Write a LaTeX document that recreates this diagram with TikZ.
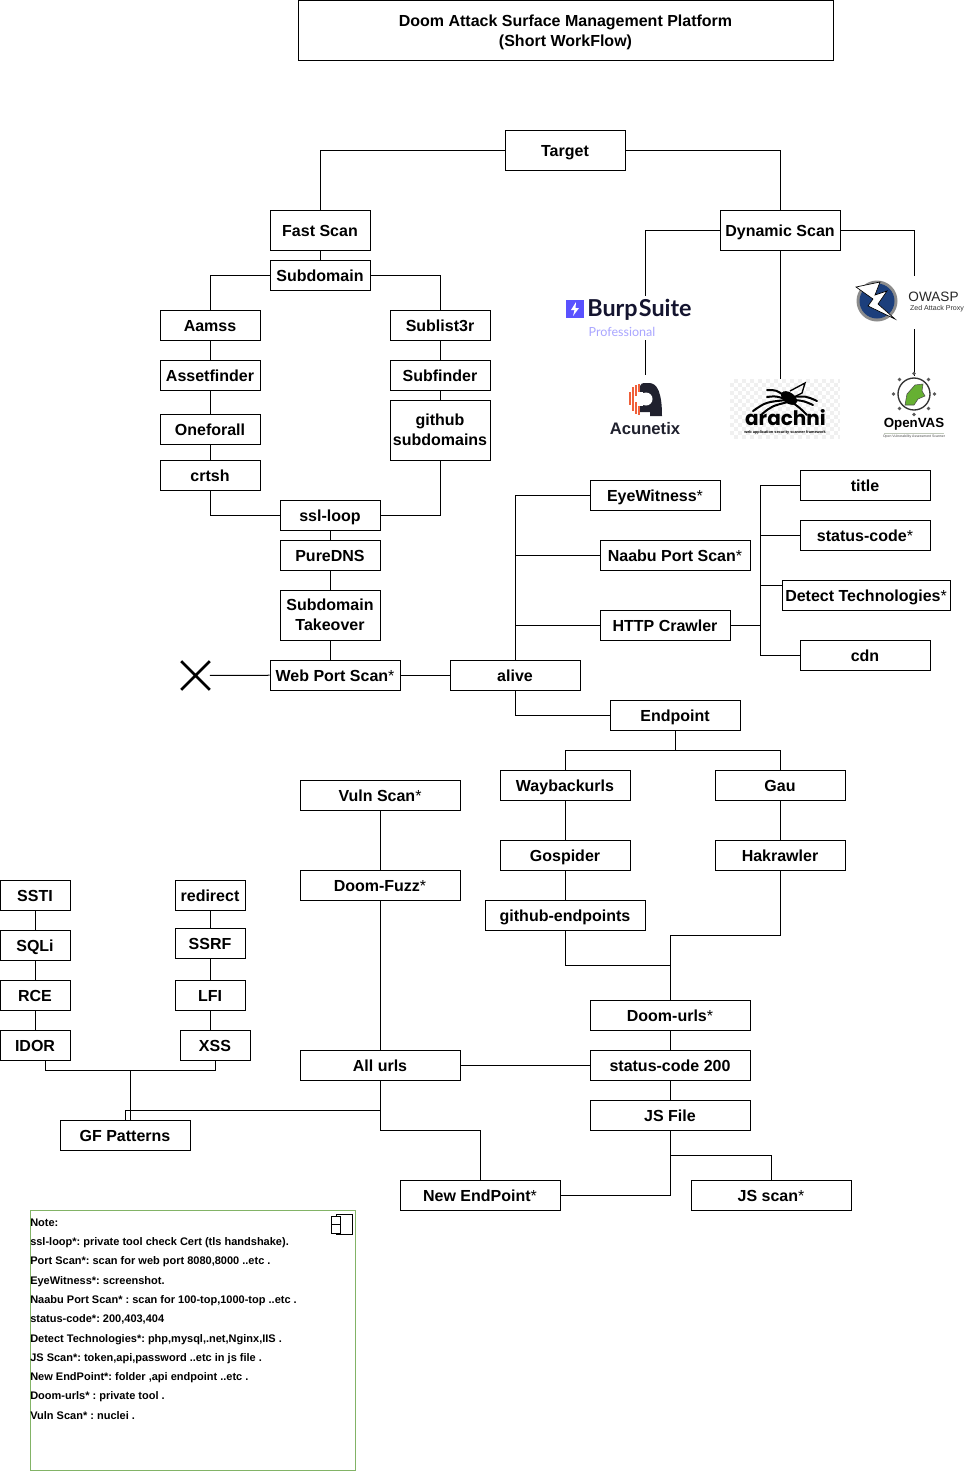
\documentclass[tikz,border=0pt]{standalone}
\usepackage{fontspec}
\setmainfont{Liberation Sans}
\newfontfamily\logofont{Lato}
\newfontfamily\roundfont{Poppins}
\usetikzlibrary{shapes.misc, calc}

\definecolor{notegreen}{HTML}{82B366}
\definecolor{burpblue}{HTML}{5A52FF}
\definecolor{burpnavy}{HTML}{14142F}
\definecolor{burplight}{HTML}{A9A5FF}
\definecolor{acuorange}{HTML}{F0603A}
\definecolor{acunavy}{HTML}{20212E}
\definecolor{zapblue}{HTML}{1C3F7C}
\definecolor{vasgreen}{HTML}{66B032}

\newcommand{\boxstrut}{\rule[-2.6pt]{0pt}{14.8pt}}

\tikzset{
    box/.style={draw, fill=white, line width=0.75pt, inner sep=0pt, align=center,
        font=\fontsize{12}{15}\selectfont\bfseries,
        execute at begin node=\boxstrut, execute at end node=\boxstrut},
    twoline/.style={draw, fill=white, line width=0.75pt, inner sep=0pt, align=center,
        font=\fontsize{12}{15}\selectfont\bfseries,
        execute at begin node=\rule{0pt}{10.1pt}},
    wh/.style 2 args={minimum width=#1*0.75pt, minimum height=#2*0.75pt},
    logo/.style={fill=white, inner sep=0pt},
    wire/.style={line width=0.75pt},
}

\begin{document}
\begin{tikzpicture}[x=0.75pt, y=-0.75pt]
    \useasboundingbox (0,0) rectangle (980,1471);

    % Title and root
    \node[twoline, wh={535}{60}] (heading) at (565.5,30) {\rule{0pt}{12.7pt}Doom Attack Surface Management Platform\\(Short WorkFlow)};
    \node[box, wh={120}{40}] (target) at (565,150) {Target};
    \node[box, wh={100}{40}] (fastscan) at (320,230) {Fast Scan};
    \node[box, wh={120}{40}] (dynscan) at (780,230) {Dynamic Scan};

    % Subdomain branch
    \node[box, wh={100}{30}] (subdomain) at (320,275) {Subdomain};
    \node[box, wh={100}{30}] (aamss) at (210,325) {Aamss};
    \node[box, wh={100}{30}] (assetfinder) at (210,375) {Assetfinder};
    \node[box, wh={100}{30}] (oneforall) at (210,429) {Oneforall};
    \node[box, wh={100}{30}] (crtsh) at (210,475) {crtsh};
    \node[box, wh={100}{30}] (sublister) at (440,325) {Sublist3r};
    \node[box, wh={100}{30}] (subfinder) at (440,375) {Subfinder};
    \node[twoline, wh={100}{60}] (ghsub) at (440,430) {github\\subdomains};
    \node[box, wh={100}{30}] (sslloop) at (330,515) {ssl-loop};
    \node[box, wh={100}{30}] (puredns) at (330,555) {PureDNS};
    \node[twoline, wh={100}{50}] (takeover) at (330,615) {Subdomain\\Takeover};
    \node[box, wh={130}{30}] (webport) at (335,675) {Web Port Scan\textmd{*}};
    \node[draw, cross out, line width=2pt, minimum size=19.5pt, inner sep=0pt] (stopmark) at (195.5,675.5) {};

    % Alive branch
    \node[box, wh={130}{30}] (alive) at (515,675) {alive};
    \node[box, wh={130}{30}] (eyewitness) at (655,495) {EyeWitness\textmd{*}};
    \node[box, wh={150}{30}] (naabu) at (675,555) {Naabu Port Scan\textmd{*}};
    \node[box, wh={130}{30}] (crawler) at (665,625) {HTTP Crawler};
    \node[box, wh={130}{30}] (pagetitle) at (865,485) {title};
    \node[box, wh={130}{30}] (statuscode) at (865,535) {status-code\textmd{*}};
    \node[box, wh={168}{30}] (detect) at (866,595) {Detect Technologies\textmd{*}};
    \node[box, wh={130}{30}] (cdn) at (865,655) {cdn};
    \node[box, wh={130}{30}] (endpoint) at (675,715) {Endpoint};

    % Endpoint branch
    \node[box, wh={130}{30}] (wayback) at (565,785) {Waybackurls};
    \node[box, wh={130}{30}] (gau) at (780,785) {Gau};
    \node[box, wh={130}{30}] (gospider) at (565,855) {Gospider};
    \node[box, wh={130}{30}] (hakrawler) at (780,855) {Hakrawler};
    \node[box, wh={160}{30}] (ghend) at (565,915) {github-endpoints};
    \node[box, wh={160}{30}] (doomurls) at (670,1015) {Doom-urls\textmd{*}};
    \node[box, wh={160}{30}] (status200) at (670,1065) {status-code 200};
    \node[box, wh={160}{30}] (jsfile) at (670,1115) {JS File};
    \node[box, wh={160}{30}] (newend) at (480,1195) {New EndPoint\textmd{*}};
    \node[box, wh={160}{30}] (jsscan) at (771,1195) {JS scan\textmd{*}};

    % Vuln branch
    \node[box, wh={160}{30}] (vulnscan) at (380,795) {Vuln Scan\textmd{*}};
    \node[box, wh={160}{30}] (doomfuzz) at (380,885) {Doom-Fuzz\textmd{*}};
    \node[box, wh={160}{30}] (allurls) at (380,1065) {All urls};
    \node[box, wh={130}{30}] (gfpat) at (125,1135) {GF Patterns};

    % Patterns
    \node[box, wh={70}{30}] (ssti) at (35,895) {SSTI};
    \node[box, wh={70}{30}] (sqli) at (35,945) {SQLi};
    \node[box, wh={70}{30}] (rce) at (35,995) {RCE};
    \node[box, wh={70}{30}] (idor) at (35,1045) {IDOR};
    \node[box, wh={70}{30}] (redirect) at (210,895) {redirect};
    \node[box, wh={70}{30}] (ssrf) at (210,943) {SSRF};
    \node[box, wh={70}{30}] (lfi) at (210,995) {LFI};
    \node[box, wh={70}{30}] (xss) at (215,1045) {XSS};

    % Bends and joins
    \coordinate (detectin) at (782,585);
    \coordinate (techjoin) at (760,625);
    \coordinate (epjoin) at (675,750);
    \coordinate (urljoin) at (670,935);
    \coordinate (urlmerge) at (670,965);
    \coordinate (jsbend) at (670,1155);
    \coordinate (newbend) at (380,1130);
    \coordinate (gfbend) at (380,1110);
    \coordinate (idorout) at (45,1060);
    \coordinate (patjoin) at (130,1070);
    \coordinate (patin) at (130,1120);

    % Connectors
    \draw[wire] (target) -| (fastscan);
    \draw[wire] (target) -| (dynscan);
    \draw[wire] (fastscan) -- (subdomain);
    \draw[wire] (subdomain) -| (aamss);
    \draw[wire] (subdomain) -| (sublister);
    \draw[wire] (aamss) -- (assetfinder);
    \draw[wire] (assetfinder) -- (oneforall);
    \draw[wire] (oneforall) -- (crtsh);
    \draw[wire] (sublister) -- (subfinder);
    \draw[wire] (subfinder) -- (ghsub);
    \draw[wire] (crtsh) |- (sslloop);
    \draw[wire] (ghsub) |- (sslloop);
    \draw[wire] (sslloop) -- (puredns);
    \draw[wire] (puredns) -- (takeover);
    \draw[wire] (takeover) -- (takeover |- webport.north);
    \draw[wire] (webport) -- (stopmark);
    \draw[wire] (webport) -- (alive);
    \draw[wire] (alive) |- (eyewitness);
    \draw[wire] (alive) |- (naabu);
    \draw[wire] (alive) |- (crawler);
    \draw[wire] (alive) |- (endpoint);
    \draw[wire] (crawler) -- (techjoin);
    \draw[wire] (techjoin) |- (pagetitle);
    \draw[wire] (techjoin) |- (statuscode);
    \draw[wire] (techjoin) |- (detectin);
    \draw[wire] (techjoin) |- (cdn);
    \draw[wire] (endpoint) -- (epjoin);
    \draw[wire] (epjoin) -| (wayback);
    \draw[wire] (epjoin) -| (gau);
    \draw[wire] (wayback) -- (gospider);
    \draw[wire] (gospider) -- (ghend);
    \draw[wire] (gau) -- (hakrawler);
    \draw[wire] (hakrawler) |- (urljoin);
    \draw[wire] (urljoin) -- (doomurls);
    \draw[wire] (ghend) |- (urlmerge);
    \draw[wire] (doomurls) -- (status200);
    \draw[wire] (status200) -- (jsfile);
    \draw[wire] (status200) -- (allurls);
    \draw[wire] (jsfile) |- (newend);
    \draw[wire] (jsbend) -| (jsscan);
    \draw[wire] (vulnscan) -- (doomfuzz);
    \draw[wire] (doomfuzz) -- (allurls);
    \draw[wire] (allurls) -- (newbend) -| (newend);
    \draw[wire] (gfbend) -| (gfpat);
    \draw[wire] (idorout) |- (patjoin);
    \draw[wire] (xss) |- (patjoin);
    \draw[wire] (patjoin) -- (patin);
    \draw[wire] (ssti) -- (sqli);
    \draw[wire] (sqli) -- (rce);
    \draw[wire] (rce) -- (idor);
    \draw[wire] (redirect) -- (ssrf);
    \draw[wire] (ssrf) -- (lfi);
    \draw[wire] (lfi) -- (lfi |- xss.north);

    % Scanner logos and their wires
    \node[logo, wh={90}{44}] (burp) at (645,318) {};
    \node[logo, wh={76}{68}] (acunetix) at (645,409) {};
    \node[logo, wh={110}{60}] (arachni) at (785,409) {};
    \node[logo, wh={102}{53}] (owasp) at (914,302.5) {};
    \node[logo, wh={66}{62}] (openvas) at (914,407) {};
    \draw[wire] (dynscan) -| (burp);
    \draw[wire] (burp) -- (acunetix);
    \draw[wire] (dynscan) -- (dynscan |- arachni.north);
    \draw[wire] (dynscan) -| (owasp);
    \draw[wire] (owasp) -- (openvas);

    % Burp Suite
    \fill[burpblue] (566,300) rectangle (584,318);
    \fill[white] (576,302) -- (571,310) -- (574.5,310) -- (573,316) -- (579,308) -- (575.5,308) -- cycle;
    \node[logo, fill=none, text=burpnavy, font=\logofont\fontsize{17.5}{18}\selectfont\bfseries] (burpname) at (639.5,310) {Burp\kern-2pt\,Suite};
    \node[logo, fill=none, text=burplight, font=\logofont\fontsize{9.4}{10}\selectfont] (burpedition) at (622,332) {Professional};

    % Acunetix
    \fill[acunavy] (644,383) -- (649,383) .. controls (657,383) and (662,392) .. (662,416) -- (650,416) -- (650,412) -- (640,412) -- (640,386) .. controls (641,384) and (642,383) .. (644,383) -- cycle;
    \fill[white] (646,399) circle (6.5);
    \fill[white] (636,392) rectangle (643,406);
    \foreach \x/\a/\b in {630/392/405, 633/387/411, 636/385/396, 636/402/414, 639/384/392, 639/406/415}
        \draw[acuorange, line width=1.4pt] (\x,\a) -- (\x,\b);
    \node[logo, fill=none, text=acunavy, font=\fontsize{12.5}{13}\selectfont\bfseries] (acuname) at (645,429) {Acunetix};

    % Arachni
    \begin{scope}
        \clip (730,379) rectangle (840,439);
        \fill[black!6] (730,379) rectangle (840,439);
        \foreach \i in {0,...,27} \foreach \j in {0,...,15} {
            \pgfmathparse{int(mod(\i+\j,2))}
            \ifnum\pgfmathresult=0 \fill[white] (730+\i*4,379+\j*4) rectangle ++(4,4); \fi
        }
    \end{scope}
    \fill[black, rotate around={-35:(789,398)}] (789,398) ellipse (9 and 5.5);
    \draw[black, line width=1pt] (790,391) -- (805,383) -- (802,393) -- (794,397);
    \foreach \px/\py/\cx/\cy/\qx/\qy in {767/390/776/390/785/396, 767/397/776/396/785/399, 753/411/766/402/787/400, 762/414/772/406/788/402, 817/401/806/396/792/397, 813/405/804/401/795/400, 807/415/800/408/793/403}
        \draw[black, line width=1.5pt, line cap=round] (\px,\py) .. controls (\cx,\cy) .. (\qx,\qy);
    \node[logo, fill=none, font=\roundfont\fontsize{15}{15}\selectfont\bfseries, text height=8pt, text depth=0pt] (arachniname) at (785.5,420) {arachni};
    \node[logo, fill=none, font=\fontsize{2.9}{3.2}\selectfont\bfseries] (arachnisub) at (785,432) {web application security scanner framework};

    % OWASP
    \fill[black!45] (877,301) circle (20.5);
    \fill[zapblue] (877,301) circle (17.5);
    \draw[black, line width=0.5pt, fill=white] (856,287) -- (880,282) -- (875,295) -- (887,291) -- (878,304) -- (895,319) -- (868,306) -- (873,299) -- cycle;
    \node[logo, fill=none, text=black!85, font=\fontsize{10.2}{10.5}\selectfont] (owaspname) at (933.5,297) {OWASP};
    \node[logo, fill=none, text=black!80, font=\fontsize{5.3}{6}\selectfont] (owaspsub) at (937,309) {Zed Attack Proxy};

    % OpenVAS
    \draw[black!80, line width=1pt] (914,394) circle (16);
    \foreach \a in {0,45,...,315}
        \fill[black!65] ($(914,394)+(\a:20.5)$) circle (1.9);
    \draw[black!70, line width=0.4pt, fill=vasgreen] (905,405) -- (907,394) -- (915,385) -- (923,384) -- (922,391) -- (925,396) -- (918,399) -- (914,405) -- cycle;
    \node[logo, fill=none, font=\fontsize{10}{10}\selectfont\bfseries] (vasname) at (914,424) {OpenVAS};
    \draw[vasgreen!40!black!30, line width=0.4pt] (884,433) -- (944,433);
    \node[logo, fill=none, text=black!70, font=\fontsize{2.6}{3}\selectfont] (vassub) at (914,437) {Open Vulnerability Assessment Scanner};

    % Note panel
    \node[draw=notegreen, fill=white, line width=0.75pt, wh={325}{260}] (notepanel) at (192.5,1340) {};
    \node[anchor=north west, inner sep=0pt, align=left, font=\fontsize{8.25}{14.47}\selectfont\bfseries\frenchspacing] (notetext) at (30,1218.5) {Note:\\
        ssl-loop*: private tool check Cert (tls handshake).\\
        Port Scan*: scan for web port 8080,8000 ..etc .\\
        EyeWitness*: screenshot.\\
        Naabu Port Scan* : scan for 100-top,1000-top ..etc .\\
        status-code*: 200,403,404\\
        Detect Technologies*: php,mysql,.net,Nginx,IIS .\\
        JS Scan*: token,api,password ..etc in js file .\\
        New EndPoint*: folder ,api endpoint ..etc .\\
        Doom-urls* : private tool .\\
        Vuln Scan* : nuclei .};

    % Component icon
    \node[draw, fill=white, line width=0.75pt, wh={16}{20}] (compbody) at (344,1224) {};
    \node[draw, fill=white, line width=0.75pt, wh={9}{6}] (comptaba) at (335.5,1221) {};
    \node[draw, fill=white, line width=0.75pt, wh={9}{6}] (comptabb) at (335.5,1229) {};
\end{tikzpicture}
\end{document}
